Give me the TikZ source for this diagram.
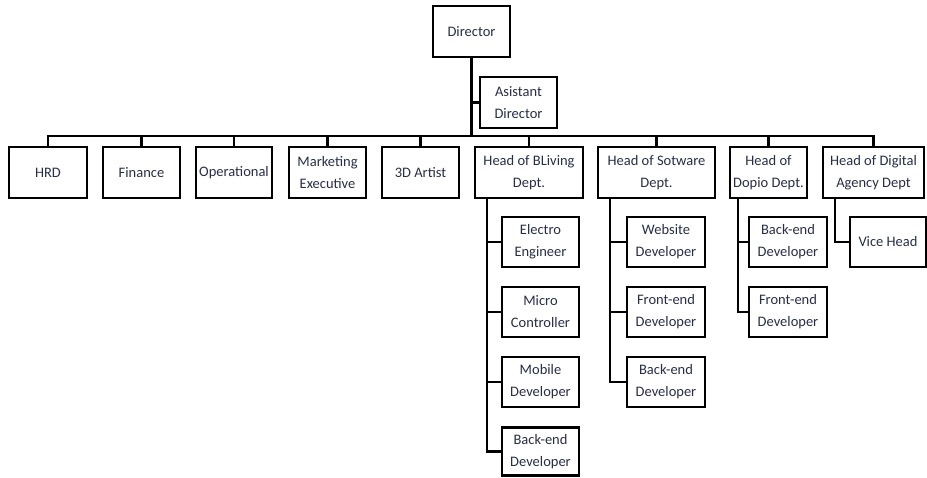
\documentclass[tikz,border=0pt]{standalone}
\usepackage{fontspec}
\setmainfont{Carlito}
\definecolor{txt}{RGB}{40,45,72}
\begin{document}
\begin{tikzpicture}[x=1pt,y=-1pt,
  box/.style={draw=black,line width=2.3pt,inner sep=0pt,align=center,text=txt,
    font=\fontsize{14.5}{22}\selectfont,minimum height=51pt},
  link/.style={draw=black,line width=2.2pt}]
\useasboundingbox (0,0) rectangle (927,477);
% top
\node[box,minimum width=77pt] (dir) at (471.5,31.5) {Director};
\node[box,minimum width=77pt] (ast) at (518.5,102.5) {Asistant\\Director};
% department row
\node[box,minimum width=78pt] (hrd) at (48,172.5) {HRD};
\node[box,minimum width=77pt] (fin) at (141.5,172.5) {Finance};
\node[box,minimum width=76pt] (ops) at (234,172.5) {Operational};
\node[box,minimum width=77pt] (mkt) at (327.5,172.5) {Marketing\\Executive};
\node[box,minimum width=77pt] (art) at (420.5,172.5) {3D Artist};
\node[box,minimum width=108pt] (bl) at (529,172.5) {Head of BLiving\\Dept.};
\node[box,minimum width=117pt] (sw) at (656.5,172.5) {Head of Sotware\\Dept.};
\node[box,minimum width=77pt] (dp) at (768.5,172.5) {Head of\\Dopio Dept.};
\node[box,minimum width=101pt] (dg) at (873.5,172.5) {Head of Digital\\Agency Dept};
% BLiving children
\node[box,minimum width=77pt,minimum height=50pt] (bl1) at (540.5,242) {Electro\\Engineer};
\node[box,minimum width=77pt,minimum height=50pt] (bl2) at (540.5,312) {Micro\\Controller};
\node[box,minimum width=77pt,minimum height=50pt] (bl3) at (540.5,382) {Mobile\\Developer};
\node[box,minimum width=77pt,minimum height=48pt] (bl4) at (540.5,451.5) {Back-end\\Developer};
% Software children
\node[box,minimum width=78pt,minimum height=50pt] (sw1) at (666,242) {Website\\Developer};
\node[box,minimum width=78pt,minimum height=50pt] (sw2) at (666,312) {Front-end\\Developer};
\node[box,minimum width=78pt,minimum height=50pt] (sw3) at (666,382) {Back-end\\Developer};
% Dopio children
\node[box,minimum width=78pt,minimum height=50pt] (dp1) at (788,242) {Back-end\\Developer};
\node[box,minimum width=78pt,minimum height=50pt] (dp2) at (788,312) {Front-end\\Developer};
% Digital child
\node[box,minimum width=76pt,minimum height=50pt] (dg1) at (888,242) {Vice Head};
% coordinates
\coordinate (bus) at (0,136);
\coordinate (blx) at (487,0);
\coordinate (swx) at (610,0);
\coordinate (dpx) at (738,0);
\coordinate (dgx) at (835,0);
% connectors
\draw[link] (dir.south) -- (dir.south |- bus);
\draw[link] (ast.west) -- (ast.west -| dir.south);
\draw[link] (hrd.north) |- (dg.north |- bus) -- (dg.north);
\foreach \n in {fin,ops,mkt,art,bl,sw,dp}{\draw[link] (\n.north) -- (\n.north |- bus);}
\draw[link] (bl.south -| blx) |- (bl4.west);
\foreach \n in {bl1,bl2,bl3}{\draw[link] (\n.west) -- (\n.west -| blx);}
\draw[link] (sw.south -| swx) |- (sw3.west);
\foreach \n in {sw1,sw2}{\draw[link] (\n.west) -- (\n.west -| swx);}
\draw[link] (dp.south -| dpx) |- (dp2.west);
\draw[link] (dp1.west) -- (dp1.west -| dpx);
\draw[link] (dg.south -| dgx) |- (dg1.west);
\end{tikzpicture}
\end{document}
